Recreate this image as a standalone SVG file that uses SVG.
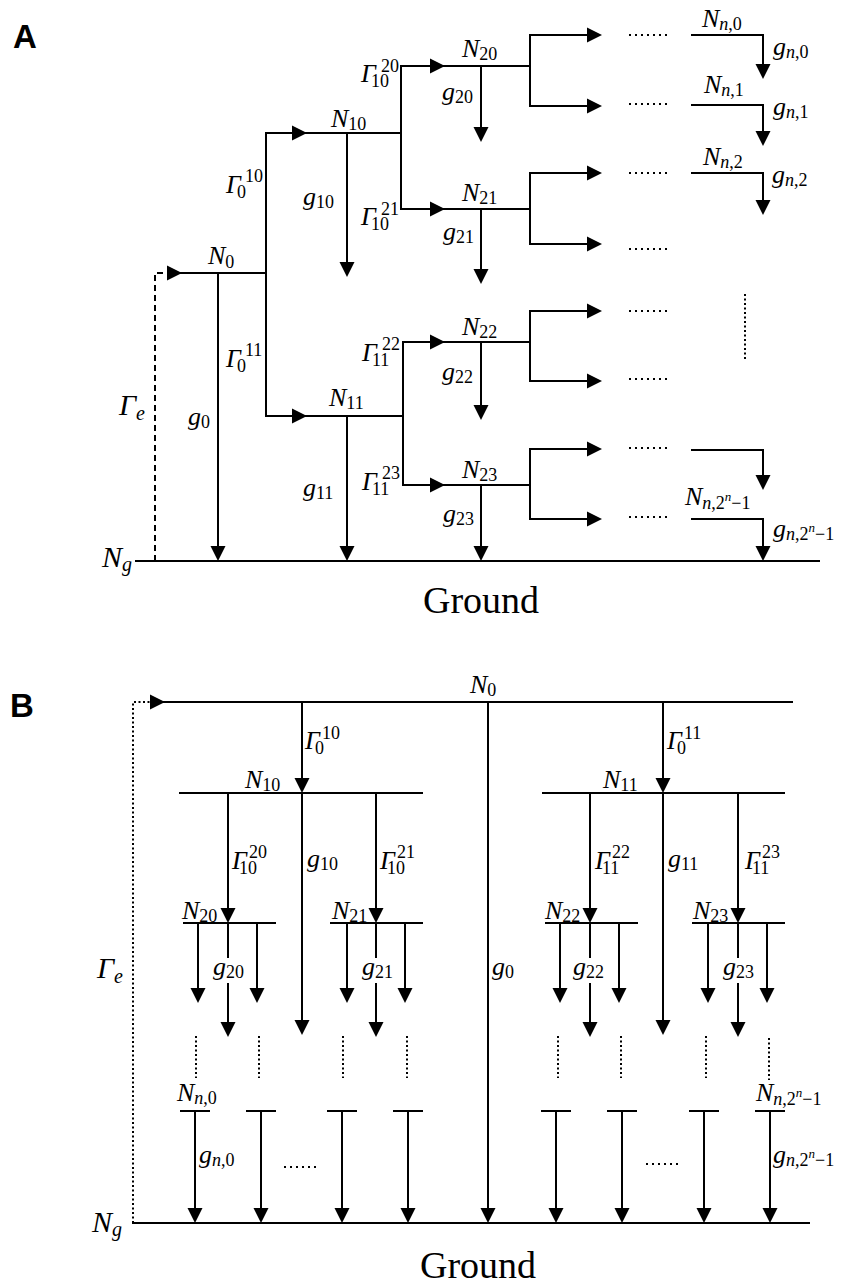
<svg xmlns="http://www.w3.org/2000/svg" width="848" height="1284" viewBox="0 0 848 1284">
<style>
text{font-family:"Liberation Serif","Times New Roman",serif;fill:#000}
.m{font-style:italic;font-size:26px}
.s{font-style:normal;font-size:18px}
.i{font-style:italic}
.ss{font-size:13px}
.big{font-style:italic;font-size:30px}
.sb{font-style:italic;font-size:20px}
.pl{font-family:"Liberation Sans",Arial,sans-serif;font-weight:bold;font-size:33px}
.gr{font-size:38px}
.ln{stroke:#000;stroke-width:2;fill:none}
.dash{stroke:#000;stroke-width:2;fill:none;stroke-dasharray:6 4}
.dot{stroke:#000;stroke-width:2;fill:none;stroke-dasharray:2 2.5}
.hdot{stroke:#000;stroke-width:2;fill:none;stroke-dasharray:2 4}
.ah{fill:#000}
</style>
<defs>
<path id="ahR" class="ah" d="M-15,-7.5 L0,0 L-15,7.5 Z"/>
<path id="ahD" class="ah" d="M-7.5,-15 L0,0 L7.5,-15 Z"/>
</defs>
<rect width="848" height="1284" fill="#fff"/>

<!-- ================= PANEL A ================= -->
<text class="pl" x="13" y="48">A</text>

<g id="connectors-A">
  <path class="dash" d="M155,561 V273 H170"/>
  <use href="#ahR" x="182" y="273"/>
  <path class="ln" d="M218,273 V548"/><use href="#ahD" x="218" y="561"/>
  <path class="ln" d="M300,133 H266 V416 H300"/>
  <use href="#ahR" x="307" y="133"/><use href="#ahR" x="307" y="416"/>
  <path class="ln" d="M347,133 V264"/><use href="#ahD" x="347" y="277"/>
  <path class="ln" d="M347,416 V548"/><use href="#ahD" x="347" y="561"/>
  <path class="ln" d="M438,66 H401 V209 H438"/>
  <use href="#ahR" x="445" y="66"/><use href="#ahR" x="445" y="209"/>
  <path class="ln" d="M438,342 H403 V485 H438"/>
  <use href="#ahR" x="445" y="342"/><use href="#ahR" x="445" y="485"/>
  <path class="ln" d="M481,66 V130"/><use href="#ahD" x="481" y="142"/>
  <path class="ln" d="M481,209 V272"/><use href="#ahD" x="481" y="284"/>
  <path class="ln" d="M481,342 V408"/><use href="#ahD" x="481" y="420"/>
  <path class="ln" d="M481,485 V548"/><use href="#ahD" x="481" y="561"/>
  <path class="ln" d="M595,35 H530 V106 H595"/>
  <use href="#ahR" x="602" y="35"/><use href="#ahR" x="602" y="106"/>
  <path class="ln" d="M595,173 H530 V244 H595"/>
  <use href="#ahR" x="602" y="173"/><use href="#ahR" x="602" y="244"/>
  <path class="ln" d="M595,311 H530 V381 H595"/>
  <use href="#ahR" x="602" y="311"/><use href="#ahR" x="602" y="381"/>
  <path class="ln" d="M595,449 H530 V519 H595"/>
  <use href="#ahR" x="602" y="449"/><use href="#ahR" x="602" y="519"/>
  <path class="hdot" d="M629,35 H670 M629,104 H670 M629,173 H670 M629,249 H670 M629,311 H670 M629,379 H670 M629,448 H670 M629,517 H670"/>
  <path class="ln" d="M763,35 V67"/><use href="#ahD" x="763" y="79"/>
  <path class="ln" d="M763,105 V134"/><use href="#ahD" x="763" y="146"/>
  <path class="ln" d="M763,173 V203"/><use href="#ahD" x="763" y="215"/>
  <path class="ln" d="M763,450 V478"/><use href="#ahD" x="763" y="490"/>
  <path class="ln" d="M763,519 V548"/><use href="#ahD" x="763" y="561"/>
  <path class="dot" d="M745,294 V360"/>
</g>

<g id="A-N0"><path class="ln" d="M176,273 H266"/><text class="m" x="208" y="264">N<tspan class="s" dy="4">0</tspan></text></g>
<g id="A-N10"><path class="ln" d="M300,133 H401"/><text class="m" x="331" y="127">N<tspan class="s" dy="3">10</tspan></text></g>
<g id="A-N11"><path class="ln" d="M300,416 H403"/><text class="m" x="329" y="406">N<tspan class="s" dy="3">11</tspan></text></g>
<g id="A-N20"><path class="ln" d="M438,66 H530"/><text class="m" x="462" y="57">N<tspan class="s" dy="3">20</tspan></text></g>
<g id="A-N21"><path class="ln" d="M438,209 H530"/><text class="m" x="462" y="201">N<tspan class="s" dy="3">21</tspan></text></g>
<g id="A-N22"><path class="ln" d="M438,342 H530"/><text class="m" x="462" y="335">N<tspan class="s" dy="3">22</tspan></text></g>
<g id="A-N23"><path class="ln" d="M438,485 H530"/><text class="m" x="462" y="478">N<tspan class="s" dy="3">23</tspan></text></g>
<g id="A-Nn0"><path class="ln" d="M691,35 H764"/><text class="m" x="702" y="27">N<tspan class="s" dy="3"><tspan class="i">n</tspan>,0</tspan></text></g>
<g id="A-Nn1"><path class="ln" d="M691,105 H764"/><text class="m" x="704" y="93">N<tspan class="s" dy="3"><tspan class="i">n</tspan>,1</tspan></text></g>
<g id="A-Nn2"><path class="ln" d="M691,173 H764"/><text class="m" x="703" y="165">N<tspan class="s" dy="3"><tspan class="i">n</tspan>,2</tspan></text></g>
<g id="A-Nn3"><path class="ln" d="M691,450 H764"/></g>
<g id="A-Nnlast"><path class="ln" d="M691,519 H764"/><text class="m" x="685" y="505">N<tspan class="s" dy="4"><tspan class="i">n</tspan>,2</tspan><tspan class="ss i" dy="-8">n</tspan><tspan class="s" dy="8">−1</tspan></text></g>
<g id="A-Ng"><path class="ln" d="M135,561 H820"/><text class="big" x="102" y="567">N<tspan class="sb" dy="4">g</tspan></text>
<text class="gr" x="481" y="613" text-anchor="middle">Ground</text></g>

<g id="A-labels">
  <text class="big" x="119" y="415">Γ<tspan class="sb" dy="5">e</tspan></text>
  <text class="m" x="188" y="425">g<tspan class="s" dy="3">0</tspan></text>
  <text class="m" x="303" y="205">g<tspan class="s" dy="3">10</tspan></text>
  <text class="m" x="303" y="496">g<tspan class="s" dy="3">11</tspan></text>
  <text class="m" x="442" y="100">g<tspan class="s" dy="3">20</tspan></text>
  <text class="m" x="443" y="240">g<tspan class="s" dy="3">21</tspan></text>
  <text class="m" x="442" y="380">g<tspan class="s" dy="3">22</tspan></text>
  <text class="m" x="443" y="522">g<tspan class="s" dy="3">23</tspan></text>
  <text class="m" x="773" y="55">g<tspan class="s" dy="3"><tspan class="i">n</tspan>,0</tspan></text>
  <text class="m" x="773" y="115">g<tspan class="s" dy="3"><tspan class="i">n</tspan>,1</tspan></text>
  <text class="m" x="772" y="183">g<tspan class="s" dy="3"><tspan class="i">n</tspan>,2</tspan></text>
  <text class="m" x="773" y="537">g<tspan class="s" dy="3"><tspan class="i">n</tspan>,2</tspan><tspan class="ss i" dy="-8">n</tspan><tspan class="s" dy="8">−1</tspan></text>
  <text class="m" x="226" y="193">Γ<tspan class="s" x="237" y="198">0</tspan><tspan class="s" x="245" y="182">10</tspan></text>
  <text class="m" x="226" y="367">Γ<tspan class="s" x="237" y="372">0</tspan><tspan class="s" x="245" y="356">11</tspan></text>
  <text class="m" x="361" y="82">Γ<tspan class="s" x="371" y="87">10</tspan><tspan class="s" x="381" y="72">20</tspan></text>
  <text class="m" x="361" y="225">Γ<tspan class="s" x="371" y="230">10</tspan><tspan class="s" x="381" y="215">21</tspan></text>
  <text class="m" x="362" y="361">Γ<tspan class="s" x="372" y="366">11</tspan><tspan class="s" x="382" y="350">22</tspan></text>
  <text class="m" x="362" y="490">Γ<tspan class="s" x="372" y="495">11</tspan><tspan class="s" x="382" y="479">23</tspan></text>
</g>

<!-- ================= PANEL B ================= -->
<text class="pl" x="10" y="717">B</text>

<g id="connectors-B">
  <path class="dot" d="M133,1223 V702 H152"/>
  <use href="#ahR" x="165" y="702"/>
  <path class="ln" d="M302,702 V781"/><use href="#ahD" x="302" y="793"/>
  <path class="ln" d="M663,702 V781"/><use href="#ahD" x="663" y="793"/>
  <path class="ln" d="M488,702 V1211"/><use href="#ahD" x="488" y="1223"/>
  <path class="ln" d="M228,793 V911"/><use href="#ahD" x="228" y="923"/>
  <path class="ln" d="M376,793 V911"/><use href="#ahD" x="376" y="923"/>
  <path class="ln" d="M590,793 V911"/><use href="#ahD" x="590" y="923"/>
  <path class="ln" d="M738,793 V911"/><use href="#ahD" x="738" y="923"/>
  <path class="ln" d="M302,793 V1023"/><use href="#ahD" x="302" y="1035"/>
  <path class="ln" d="M663,793 V1023"/><use href="#ahD" x="663" y="1035"/>
  <path class="ln" d="M198,923 V991 M257,923 V991 M228,923 V1025 M347,923 V991 M405,923 V991 M376,923 V1025 M560,923 V991 M619,923 V991 M590,923 V1025 M708,923 V991 M767,923 V991 M738,923 V1025"/>
  <use href="#ahD" x="198" y="1003"/><use href="#ahD" x="257" y="1003"/><use href="#ahD" x="228" y="1037"/>
  <use href="#ahD" x="347" y="1003"/><use href="#ahD" x="405" y="1003"/><use href="#ahD" x="376" y="1037"/>
  <use href="#ahD" x="560" y="1003"/><use href="#ahD" x="619" y="1003"/><use href="#ahD" x="590" y="1037"/>
  <use href="#ahD" x="708" y="1003"/><use href="#ahD" x="767" y="1003"/><use href="#ahD" x="738" y="1037"/>
  <path class="dot" d="M196,1036 V1078 M259,1036 V1078 M343,1036 V1078 M407,1036 V1078 M558,1036 V1078 M621,1036 V1078 M706,1036 V1078 M769,1038 V1080"/>
  <path class="ln" d="M195,1111 V1211 M261,1111 V1211 M342,1111 V1211 M408,1111 V1211 M556,1111 V1211 M622,1111 V1211 M704,1111 V1211 M770,1111 V1211"/>
  <use href="#ahD" x="195" y="1223"/><use href="#ahD" x="261" y="1223"/><use href="#ahD" x="342" y="1223"/><use href="#ahD" x="408" y="1223"/>
  <use href="#ahD" x="556" y="1223"/><use href="#ahD" x="622" y="1223"/><use href="#ahD" x="704" y="1223"/><use href="#ahD" x="770" y="1223"/>
  <path class="hdot" d="M284,1167 H318 M646,1164 H680"/>
</g>

<g id="B-N0"><path class="ln" d="M158,702 H793"/><text class="m" x="470" y="693">N<tspan class="s" dy="3">0</tspan></text></g>
<g id="B-N10"><path class="ln" d="M179,793 H423"/><text class="m" x="245" y="788">N<tspan class="s" dy="3">10</tspan></text></g>
<g id="B-N11"><path class="ln" d="M542,793 H785"/><text class="m" x="603" y="788">N<tspan class="s" dy="3">11</tspan></text></g>
<g id="B-N20"><path class="ln" d="M183,923 H276"/><text class="m" x="182" y="919">N<tspan class="s" dy="3">20</tspan></text></g>
<g id="B-N21"><path class="ln" d="M330,923 H423"/><text class="m" x="332" y="919">N<tspan class="s" dy="3">21</tspan></text></g>
<g id="B-N22"><path class="ln" d="M545,923 H638"/><text class="m" x="545" y="919">N<tspan class="s" dy="3">22</tspan></text></g>
<g id="B-N23"><path class="ln" d="M692,923 H785"/><text class="m" x="693" y="919">N<tspan class="s" dy="3">23</tspan></text></g>
<g id="B-Nn0"><path class="ln" d="M180,1111 H210"/><text class="m" x="177" y="1101">N<tspan class="s" dy="3"><tspan class="i">n</tspan>,0</tspan></text></g>
<g id="B-Nn-a"><path class="ln" d="M246,1111 H276"/></g>
<g id="B-Nn-b"><path class="ln" d="M327,1111 H357"/></g>
<g id="B-Nn-c"><path class="ln" d="M393,1111 H423"/></g>
<g id="B-Nn-d"><path class="ln" d="M541,1111 H571"/></g>
<g id="B-Nn-e"><path class="ln" d="M607,1111 H637"/></g>
<g id="B-Nn-f"><path class="ln" d="M689,1111 H719"/></g>
<g id="B-Nnlast"><path class="ln" d="M755,1111 H785"/><text class="m" x="756" y="1101">N<tspan class="s" dy="4"><tspan class="i">n</tspan>,2</tspan><tspan class="ss i" dy="-8">n</tspan><tspan class="s" dy="8">−1</tspan></text></g>
<g id="B-Ng"><path class="ln" d="M132,1223 H810"/><text class="big" x="92" y="1232">N<tspan class="sb" dy="4">g</tspan></text>
<text class="gr" x="478" y="1278" text-anchor="middle">Ground</text></g>

<g id="B-labels">
  <text class="big" x="97" y="978">Γ<tspan class="sb" dy="5">e</tspan></text>
  <text class="m" x="305" y="749">Γ<tspan class="s" x="315" y="754">0</tspan><tspan class="s" x="322" y="739">10</tspan></text>
  <text class="m" x="667" y="749">Γ<tspan class="s" x="677" y="754">0</tspan><tspan class="s" x="684" y="739">11</tspan></text>
  <text class="m" x="232" y="869">Γ<tspan class="s" x="239" y="874">10</tspan><tspan class="s" x="249" y="858">20</tspan></text>
  <text class="m" x="380" y="869">Γ<tspan class="s" x="387" y="874">10</tspan><tspan class="s" x="397" y="858">21</tspan></text>
  <text class="m" x="595" y="869">Γ<tspan class="s" x="602" y="874">11</tspan><tspan class="s" x="612" y="858">22</tspan></text>
  <text class="m" x="745" y="869">Γ<tspan class="s" x="752" y="874">11</tspan><tspan class="s" x="762" y="858">23</tspan></text>
  <text class="m" x="307" y="867">g<tspan class="s" dy="3">10</tspan></text>
  <text class="m" x="668" y="867">g<tspan class="s" dy="3">11</tspan></text>
  <text class="m" x="492" y="975">g<tspan class="s" dy="3">0</tspan></text>
  <rect x="212" y="958" width="37" height="25" fill="#fff"/>
  <text class="m" x="213" y="975">g<tspan class="s" dy="3">20</tspan></text>
  <rect x="361" y="958" width="37" height="25" fill="#fff"/>
  <text class="m" x="362" y="975">g<tspan class="s" dy="3">21</tspan></text>
  <rect x="572" y="958" width="37" height="25" fill="#fff"/>
  <text class="m" x="573" y="975">g<tspan class="s" dy="3">22</tspan></text>
  <rect x="722" y="958" width="37" height="25" fill="#fff"/>
  <text class="m" x="723" y="975">g<tspan class="s" dy="3">23</tspan></text>
  <text class="m" x="199" y="1163">g<tspan class="s" dy="3"><tspan class="i">n</tspan>,0</tspan></text>
  <text class="m" x="773" y="1163">g<tspan class="s" dy="3"><tspan class="i">n</tspan>,2</tspan><tspan class="ss i" dy="-8">n</tspan><tspan class="s" dy="8">−1</tspan></text>
</g>
</svg>
